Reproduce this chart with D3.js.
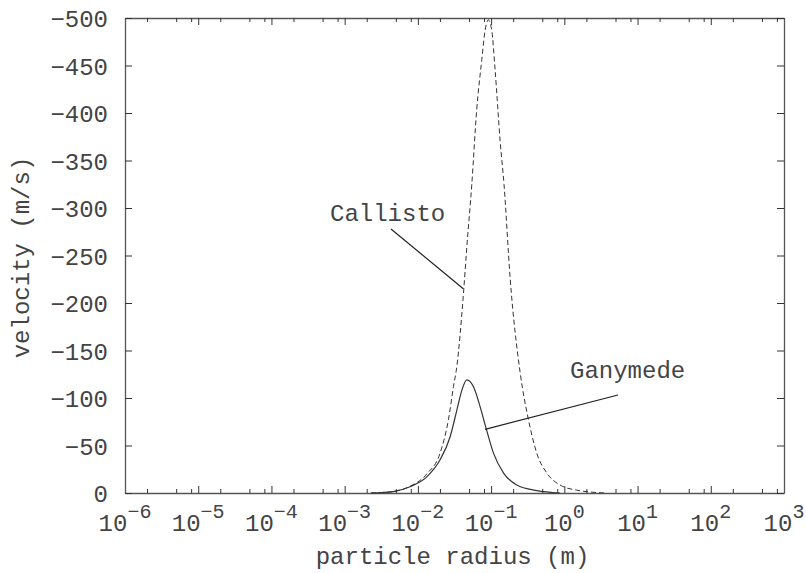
<!DOCTYPE html>
<html>
<head>
<meta charset="utf-8">
<script src="https://cdn.jsdelivr.net/npm/d3@7"></script>
<style>
  html, body { margin: 0; padding: 0; background: #fff; }
  svg { display: block; }
  text { font-family: "Liberation Mono", "Courier New", monospace; fill: #444; }
</style>
</head>
<body>
<svg id="chart" width="806" height="573"></svg>
<script>
// ---- data ----
const ganymedeR = [0.0023, 0.0046, 0.0078, 0.0132, 0.0201, 0.0275, 0.034, 0.0398, 0.0466, 0.0572, 0.0707, 0.0855, 0.1077, 0.148, 0.224, 0.42, 0.87];
const ganymedeV = [0, -1.5, -6.6, -17, -35, -59, -87, -108, -119, -112, -91, -68, -42, -21, -8.4, -2.5, 0];

const callistoR = [0.0023, 0.0046, 0.0078, 0.0132, 0.0201, 0.0261, 0.0306, 0.034, 0.0419, 0.0466, 0.0545, 0.0635, 0.0746, 0.0828, 0.0918, 0.102, 0.1135, 0.133, 0.150, 0.182, 0.249, 0.324, 0.42, 0.577, 0.875, 1.48, 3.6];
const callistoV = [0, -1.5, -7, -20, -42, -77, -112, -133, -210, -259, -325, -403, -456, -487, -498, -487, -445, -370, -325, -226, -127, -77, -42, -21, -8.4, -3, 0];

const xDecadeExps = [-6, -5, -4, -3, -2, -1, 0, 1, 2, 3];
const xMinorMult = [2, 5, 8];
const yTickValues = [0, -50, -100, -150, -200, -250, -300, -350, -400, -450, -500];

const xLabel = "particle radius (m)";
const yLabel = "velocity (m/s)";

const annotationNames = ["Callisto", "Ganymede"];
// points on the curves where the leader lines end
const annotationR = [0.0417, 0.0826];
const annotationV = [-215, -67];

// ---- layout ----
const W = 806, H = 573;
const m = { left: 125, right: 22, top: 18, bottom: 80 };
const x0 = m.left, x1 = W - m.right, y0 = m.top, y1 = H - m.bottom;

const svg = d3.select("#chart");
const x = d3.scaleLog().domain([1e-6, 1e3]).range([x0, x1]);
const y = d3.scaleLinear().domain([0, -500]).range([y1, y0]);

const axisColor = "#555";
const majorVals = xDecadeExps.map(e => Math.pow(10, e));
const minorVals = [];
xDecadeExps.slice(0, -1).forEach(e => xMinorMult.forEach(k => minorVals.push(k * Math.pow(10, e))));

function styleAxis(g) {
  g.select(".domain").attr("stroke", axisColor).attr("stroke-width", 1.3);
  g.selectAll(".tick line").attr("stroke", "#333").attr("stroke-width", 1);
  g.selectAll(".tick text").remove();
}

// bottom axis
svg.append("g").attr("transform", `translate(0,${y1})`)
  .call(d3.axisBottom(x).tickValues(majorVals).tickSize(-7).tickSizeOuter(0).tickFormat(""))
  .call(styleAxis);
svg.append("g").attr("transform", `translate(0,${y1})`)
  .call(d3.axisBottom(x).tickValues(minorVals).tickSize(-4).tickSizeOuter(0).tickFormat(""))
  .call(styleAxis).call(g => g.select(".domain").remove());
// top axis
svg.append("g").attr("transform", `translate(0,${y0})`)
  .call(d3.axisTop(x).tickValues(majorVals).tickSize(-7).tickSizeOuter(0).tickFormat(""))
  .call(styleAxis);
svg.append("g").attr("transform", `translate(0,${y0})`)
  .call(d3.axisTop(x).tickValues(minorVals).tickSize(-4).tickSizeOuter(0).tickFormat(""))
  .call(styleAxis).call(g => g.select(".domain").remove());
// left axis
const gl = svg.append("g").attr("transform", `translate(${x0},0)`)
  .call(d3.axisLeft(y).tickValues(yTickValues).tickSize(-7).tickSizeOuter(0));
gl.select(".domain").attr("stroke", axisColor).attr("stroke-width", 1.3);
gl.selectAll(".tick line").attr("stroke", "#333");
gl.selectAll(".tick text")
  .text(d => d === 0 ? "0" : "\u2212" + Math.abs(d))
  .attr("x", -17).attr("dy", "0.36em")
  .style("font-size", "24px").attr("fill", "#444")
  .attr("font-family", null);
// right axis
svg.append("g").attr("transform", `translate(${x1},0)`)
  .call(d3.axisRight(y).tickValues(yTickValues).tickSize(-7).tickSizeOuter(0).tickFormat(""))
  .call(styleAxis);

// x tick labels with superscripts
const xl = svg.append("g");
majorVals.forEach((v, i) => {
  const t = xl.append("text")
    .attr("x", x(v)).attr("y", y1 + 38)
    .attr("text-anchor", "middle")
    .style("font-size", "24px");
  t.append("tspan").text("10");
  t.append("tspan").attr("dy", -13).style("font-size", "20px")
    .text(xDecadeExps[i] < 0 ? "\u2212" + Math.abs(xDecadeExps[i]) : String(xDecadeExps[i]));
});

// axis titles
svg.append("text").attr("x", (x0 + x1) / 2 - 2).attr("y", y1 + 71)
  .attr("text-anchor", "middle").style("font-size", "24px").text(xLabel);
svg.append("text")
  .attr("transform", `translate(${29},${(y0 + y1) / 2 + 2}) rotate(-90)`)
  .attr("text-anchor", "middle").style("font-size", "24px").text(yLabel);

// curves
const line = d3.line().x(d => x(d[0])).y(d => y(d[1])).curve(d3.curveMonotoneX);
const gData = ganymedeR.map((r, i) => [r, ganymedeV[i]]);
const cData = callistoR.map((r, i) => [r, callistoV[i]]);

svg.append("path").datum(cData).attr("d", line)
  .attr("fill", "none").attr("stroke", "#333").attr("stroke-width", 1)
  .attr("stroke-dasharray", "5,3");
svg.append("path").datum(gData).attr("d", line)
  .attr("fill", "none").attr("stroke", "#333").attr("stroke-width", 1.2);

// annotations (label + leader line to curve)
const annLayout = [
  { tx: 330, ty: 221, lx1: 391, ly1: 229 },
  { tx: 570, ty: 378, lx1: 618, ly1: 395 }
];
annotationNames.forEach((name, i) => {
  const a = annLayout[i];
  svg.append("text").attr("x", a.tx).attr("y", a.ty).style("font-size", "24px").text(name);
  svg.append("line").attr("x1", a.lx1).attr("y1", a.ly1)
    .attr("x2", x(annotationR[i])).attr("y2", y(annotationV[i]))
    .attr("stroke", "#222").attr("stroke-width", 1.2);
});
</script>
</body>
</html>
